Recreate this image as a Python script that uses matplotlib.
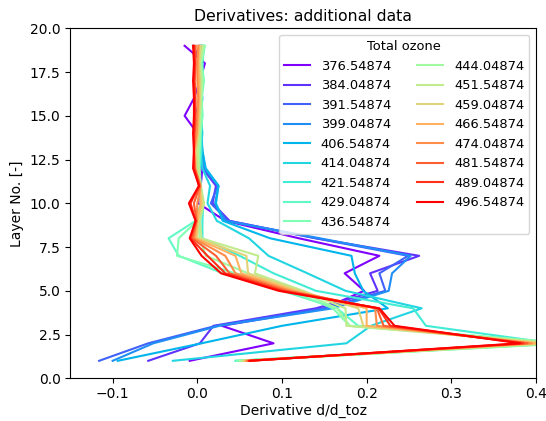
import numpy as np
import matplotlib
matplotlib.use("Agg")
import matplotlib.pyplot as plt

# Layer numbers (y axis)
layers = list(range(1, 20))

# Total ozone values used as legend labels
total_ozone = [376.54874, 384.04874, 391.54874, 399.04874, 406.54874, 414.04874,
               421.54874, 429.04874, 436.54874, 444.04874, 451.54874, 459.04874,
               466.54874, 474.04874, 481.54874, 489.04874, 496.54874]

# Derivative profiles, one per total ozone value (layers 1..19)
d_376 = [-0.009, 0.090, 0.029, 0.150, 0.197, 0.174, 0.215, 0.120, 0.033, 0.001,
         0.004, 0.006, 0.002, 0.000, -0.015, -0.004, 0.003, 0.009, -0.015]
d_384 = [-0.058, 0.003, 0.019, 0.140, 0.213, 0.204, 0.262, 0.140, 0.038, 0.018,
         0.022, 0.006, 0.005, 0.002, -0.003, 0.004, 0.002, 0.005, -0.005]
d_391 = [-0.116, -0.058, 0.022, 0.150, 0.222, 0.215, 0.249, 0.140, 0.036, 0.016,
         0.024, 0.007, 0.004, 0.003, 0.001, 0.003, 0.004, 0.003, 0.002]
d_399 = [-0.100, -0.052, 0.026, 0.160, 0.226, 0.230, 0.252, 0.145, 0.033, 0.021,
         0.025, 0.009, 0.006, 0.004, 0.003, 0.005, 0.005, 0.004, 0.004]
d_406 = [-0.094, 0.005, 0.100, 0.225, 0.196, 0.186, 0.182, 0.086, 0.030, 0.022,
         0.025, 0.010, 0.006, 0.005, 0.004, 0.006, 0.004, 0.006, 0.005]
d_414 = [-0.029, 0.176, 0.205, 0.265, 0.175, 0.130, 0.084, 0.061, 0.023, 0.012,
         0.015, 0.006, 0.004, 0.006, 0.004, 0.003, 0.006, 0.005, 0.006]
d_421 = [0.045, 0.420, 0.270, 0.255, 0.140, 0.090, 0.050, 0.006, 0.006, 0.007,
         0.004, 0.003, 0.005, 0.004, 0.006, 0.005, 0.007, 0.006, 0.008]
d_429 = [0.046, 0.430, 0.190, 0.165, 0.100, 0.030, -0.022, -0.034, -0.002, 0.004,
         0.003, 0.000, 0.002, 0.003, 0.005, 0.004, 0.006, 0.004, 0.007]
d_436 = [0.047, 0.440, 0.180, 0.160, 0.110, 0.045, -0.024, -0.022, 0.000, 0.005,
         0.004, 0.002, 0.003, 0.004, 0.006, 0.005, 0.008, 0.005, 0.009]
d_444 = [0.050, 0.430, 0.180, 0.165, 0.120, 0.060, 0.010, 0.003, 0.002, 0.006,
         0.003, 0.001, 0.002, 0.003, 0.004, 0.005, 0.006, 0.004, 0.008]
d_451 = [0.053, 0.420, 0.176, 0.175, 0.125, 0.068, 0.072, 0.005, 0.003, 0.008,
         0.004, 0.002, 0.000, 0.002, 0.003, 0.004, 0.005, 0.003, 0.006]
d_459 = [0.055, 0.410, 0.196, 0.190, 0.120, 0.060, 0.058, 0.000, 0.001, 0.006,
         0.002, -0.001, -0.002, 0.001, 0.002, 0.003, 0.003, 0.002, 0.004]
d_466 = [0.057, 0.400, 0.200, 0.200, 0.115, 0.052, 0.045, -0.002, 0.000, 0.004,
         0.003, -0.002, -0.003, 0.000, 0.001, 0.002, 0.002, 0.001, 0.002]
d_474 = [0.058, 0.395, 0.212, 0.210, 0.110, 0.045, 0.033, -0.004, -0.001, 0.000,
         0.004, -0.003, -0.004, -0.001, 0.000, 0.001, 0.000, 0.000, 0.001]
d_481 = [0.060, 0.390, 0.220, 0.212, 0.105, 0.038, 0.022, -0.006, -0.001, -0.004,
         0.003, -0.003, -0.004, -0.003, -0.002, -0.002, -0.003, -0.002, -0.002]
d_489 = [0.061, 0.385, 0.228, 0.214, 0.100, 0.033, 0.012, -0.008, -0.002, -0.008,
         0.002, -0.004, -0.004, -0.004, -0.003, -0.003, -0.004, -0.003, -0.004]
d_496 = [0.062, 0.381, 0.233, 0.215, 0.096, 0.028, 0.005, -0.009, -0.002, -0.010,
         0.002, -0.005, -0.004, -0.005, -0.004, -0.004, -0.005, -0.004, -0.005]

profiles = [d_376, d_384, d_391, d_399, d_406, d_414, d_421, d_429, d_436,
            d_444, d_451, d_459, d_466, d_474, d_481, d_489, d_496]

fig = plt.figure(figsize=(5.46, 4.21), dpi=100)
ax = fig.add_axes([0.1288, 0.1014, 0.8529, 0.8314])

colors = plt.cm.rainbow(np.linspace(0, 1, len(profiles)))
for toz, prof, c in zip(total_ozone, profiles, colors):
    ax.plot(prof, layers, color=c, lw=1.5, label=f"{toz:.5f}")

ax.set_xlim(-0.15, 0.4)
ax.set_ylim(0, 20)
ax.set_yticks(np.arange(0, 20.1, 2.5))
ax.set_xticks([-0.1, 0.0, 0.1, 0.2, 0.3, 0.4])
ax.tick_params(axis="x", pad=2.5)
ax.set_title("Derivatives: additional data", fontsize=11.3, pad=5)
ax.set_xlabel("Derivative d/d_toz", labelpad=2)
ax.set_ylabel("Layer No. [-]")
ax.legend(title="Total ozone", ncol=2, loc="upper right",
          fontsize=9.4, title_fontsize=9.4)

fig.savefig("out.png", dpi=100)
